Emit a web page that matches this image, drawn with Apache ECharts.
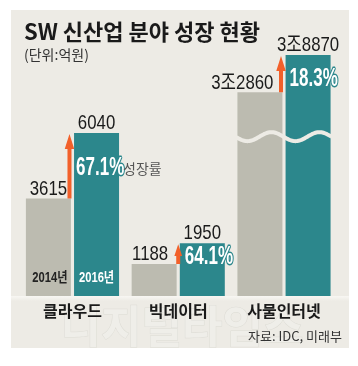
<!DOCTYPE html>
<html>
<head>
<meta charset="utf-8">
<script src="https://cdn.jsdelivr.net/npm/echarts@6/dist/echarts.min.js"></script>
<style>
html,body{margin:0;padding:0;background:#ffffff;}
#c{width:358px;height:366px;}
</style>
</head>
<body>
<div id="c"></div>
<script>
// ---- data ----
const categories = ['클라우드', '빅데이터', '사물인터넷'];
const years = ['2014년', '2016년'];
const values2014 = [3615, 1188, 32860];
const values2016 = [6040, 1950, 38870];
const growth = ['67.1%', '64.1%', '18.3%'];
const growthNote = '성장률';
const titleText = 'SW 신산업 분야 성장 현황';
const unitText = '(단위:억원)';
const sourceText = '자료: IDC, 미래부';
const watermarkText = '디지털타임스';

// ---- style ----
const BG = '#edebe5';
const GRAY = '#bcbbb0';
const TEAL = '#2c878c';
const ORANGE = '#f2602a';
const BAR_W = 45;
const BAR_GAP = 0.07;
const NUMF = '"Liberation Sans", "Noto Sans CJK KR", sans-serif';
const KR = '"Noto Sans CJK KR", sans-serif';
const SQUEEZE = 0.8;   // condensed look for numbers

function fmt(v) {
  if (v >= 10000) return Math.floor(v / 10000) + '조' + (v % 10000);
  return String(v);
}

// per-category annotation layout (pixels relative to bars)
const layout = [
  { arrowDx: -3, pdx: 2, pdy: 35, grayAlign: 'center', grayDx: 0 },
  { arrowDx: 0, pdx: 5, pdy: 14, grayAlign: 'center', grayDx: -4 },
  { arrowDx: -3, pdx: 4, pdy: 24, grayAlign: 'right', grayDx: 13 }
];
const breakAt = 25700; // position of decorative break wave (IoT panel)

const groups = [[0, 1], [2]];

function sText(text, x, y, align, font, fill, sx, extra) {
  return {
    type: 'text', x: x, y: y, scaleX: sx,
    style: Object.assign({ text: text, x: 0, y: 0, align: align, verticalAlign: 'middle', font: font, fill: fill }, extra || {})
  };
}

function renderAnn(params, api) {
  const ci = api.value(0), v14 = api.value(1), v16 = api.value(2), g = api.value(3);
  const base = api.coord([ci, 0]);
  const cx = base[0], y0 = base[1];
  const y14 = api.coord([ci, v14])[1];
  const y16 = api.coord([ci, v16])[1];
  const half = BAR_W * BAR_GAP / 2;
  const grayL = cx - half - BAR_W, grayR = cx - half;
  const tealL = cx + half, tealR = tealL + BAR_W;
  const grayC = (grayL + grayR) / 2, tealC = (tealL + tealR) / 2;
  const L = layout[g];
  const ch = [];
  if (g === 2) {
    const yc = api.coord([ci, breakAt])[1];
    const pts = [];
    const x0 = grayL + 10;
    for (let x = grayL - 1; x <= tealR + 1; x += 1) {
      pts.push([x, yc + 4.5 * Math.sin(2 * Math.PI * (x - x0) / 48 + Math.PI / 2)]);
    }
    ch.push({ type: 'polyline', shape: { points: pts }, style: { stroke: BG, lineWidth: 4, fill: null } });
  }
  // growth arrow from 2014 level to 2016 level
  const ax = cx + L.arrowDx;
  const tip = y16 + 1, bot = y14;
  const len = bot - tip;
  const hl = Math.min(15, len * 0.6);
  const hw = Math.min(4.75, hl * 0.33);
  ch.push({
    type: 'polygon',
    shape: { points: [[ax - 2, bot], [ax - 2, tip + hl], [ax - hw, tip + hl], [ax, tip], [ax + hw, tip + hl], [ax + 2, tip + hl], [ax + 2, bot]] },
    style: { fill: ORANGE }
  });
  // value labels
  const gx = L.grayAlign === 'right' ? grayR + L.grayDx - 22 : grayC + L.grayDx;
  ch.push(sText(fmt(v14), gx, y14 - 9.5, L.grayAlign, '21px ' + NUMF, '#1a1a1a', SQUEEZE));
  ch.push(sText(fmt(v16), tealC, y16 - 10, 'center', '21px ' + NUMF, '#1a1a1a', SQUEEZE));
  // growth rate inside the 2016 bar
  ch.push(sText(growth[g], tealL + L.pdx, y16 + L.pdy, 'left', 'bold 25px ' + NUMF, '#ffffff', 0.68,
    { stroke: TEAL, lineWidth: 3, strokeFirst: true }));
  if (g === 0) {
    ch.push(sText(growthNote, tealR + 4, y16 + L.pdy + 1, 'left', '14px ' + KR, '#555555', 1));
    ch.push(sText(years[0], grayC + 1.5, y0 - 18, 'center', 'bold 14px ' + NUMF, '#222222', SQUEEZE));
    ch.push(sText(years[1], tealC, y0 - 18, 'center', 'bold 14px ' + NUMF, '#ffffff', SQUEEZE));
  }
  return { type: 'group', children: ch };
}

const series = [];
groups.forEach((idx, gi) => {
  series.push({
    type: 'bar', name: years[0], xAxisIndex: gi, yAxisIndex: gi,
    barWidth: BAR_W, barGap: (BAR_GAP * 100) + '%',
    itemStyle: { color: GRAY },
    data: idx.map(i => values2014[i])
  });
  series.push({
    type: 'bar', name: years[1], xAxisIndex: gi, yAxisIndex: gi,
    barWidth: BAR_W, barGap: (BAR_GAP * 100) + '%',
    itemStyle: { color: TEAL },
    data: idx.map(i => values2016[i])
  });
  series.push({
    type: 'custom', xAxisIndex: gi, yAxisIndex: gi, z: 5, silent: true,
    renderItem: renderAnn,
    encode: { x: 0, y: [1, 2] },
    data: idx.map((i, k) => [k, values2014[i], values2016[i], i])
  });
});

const axisLabelStyle = { color: '#1a1a1a', fontFamily: KR, fontSize: 16, fontWeight: 'bold', margin: 7 };

const option = {
  animation: false,
  backgroundColor: '#ffffff',
  title: {
    text: titleText, subtext: unitText, left: 19, top: 16, itemGap: 5,
    textStyle: { fontFamily: KR, fontSize: 22, fontWeight: 'bold', color: '#1a1a1a' },
    subtextStyle: { fontFamily: KR, fontSize: 14, color: '#333333' }
  },
  graphic: [
    { type: 'rect', z: -10, shape: { x: 11, y: 10, width: 338, height: 338 }, style: { fill: BG } },
    { type: 'rect', z: -9, shape: { x: 11, y: 296, width: 338, height: 5 },
      style: { fill: new echarts.graphic.LinearGradient(0, 0, 0, 1, [{ offset: 0, color: '#f8f7f3' }, { offset: 1, color: BG }]) } },
    { type: 'text', z: -8, style: { text: watermarkText, x: 182, y: 326, align: 'center', verticalAlign: 'middle',
      font: 'bold 44px ' + KR, fill: '#efeee9', stroke: '#dddcd5', lineWidth: 1 } },
    { type: 'text', z: 10, style: { text: sourceText, x: 342, y: 336, align: 'right', verticalAlign: 'middle',
      font: '13px ' + KR, fill: '#333333' } }
  ],
  grid: [
    { left: 19.6, right: 126.9, top: 80, bottom: 70, outerBoundsMode: 'none' },
    { left: 231.1, right: 21.1, top: 48, bottom: 70, outerBoundsMode: 'none' }
  ],
  xAxis: groups.map((idx, gi) => ({
    type: 'category', gridIndex: gi, data: idx.map(i => categories[i]),
    axisLine: { show: false }, axisTick: { show: false }, splitLine: { show: false },
    axisLabel: axisLabelStyle
  })),
  yAxis: [
    { type: 'value', gridIndex: 0, min: 0, max: 8000, show: false, splitLine: { show: false } },
    { type: 'value', gridIndex: 1, min: 0, max: 40000, show: false, splitLine: { show: false } }
  ],
  series: series
};

const chart = echarts.init(document.getElementById('c'), null, { renderer: 'canvas' });
chart.setOption(option);
</script>
</body>
</html>
